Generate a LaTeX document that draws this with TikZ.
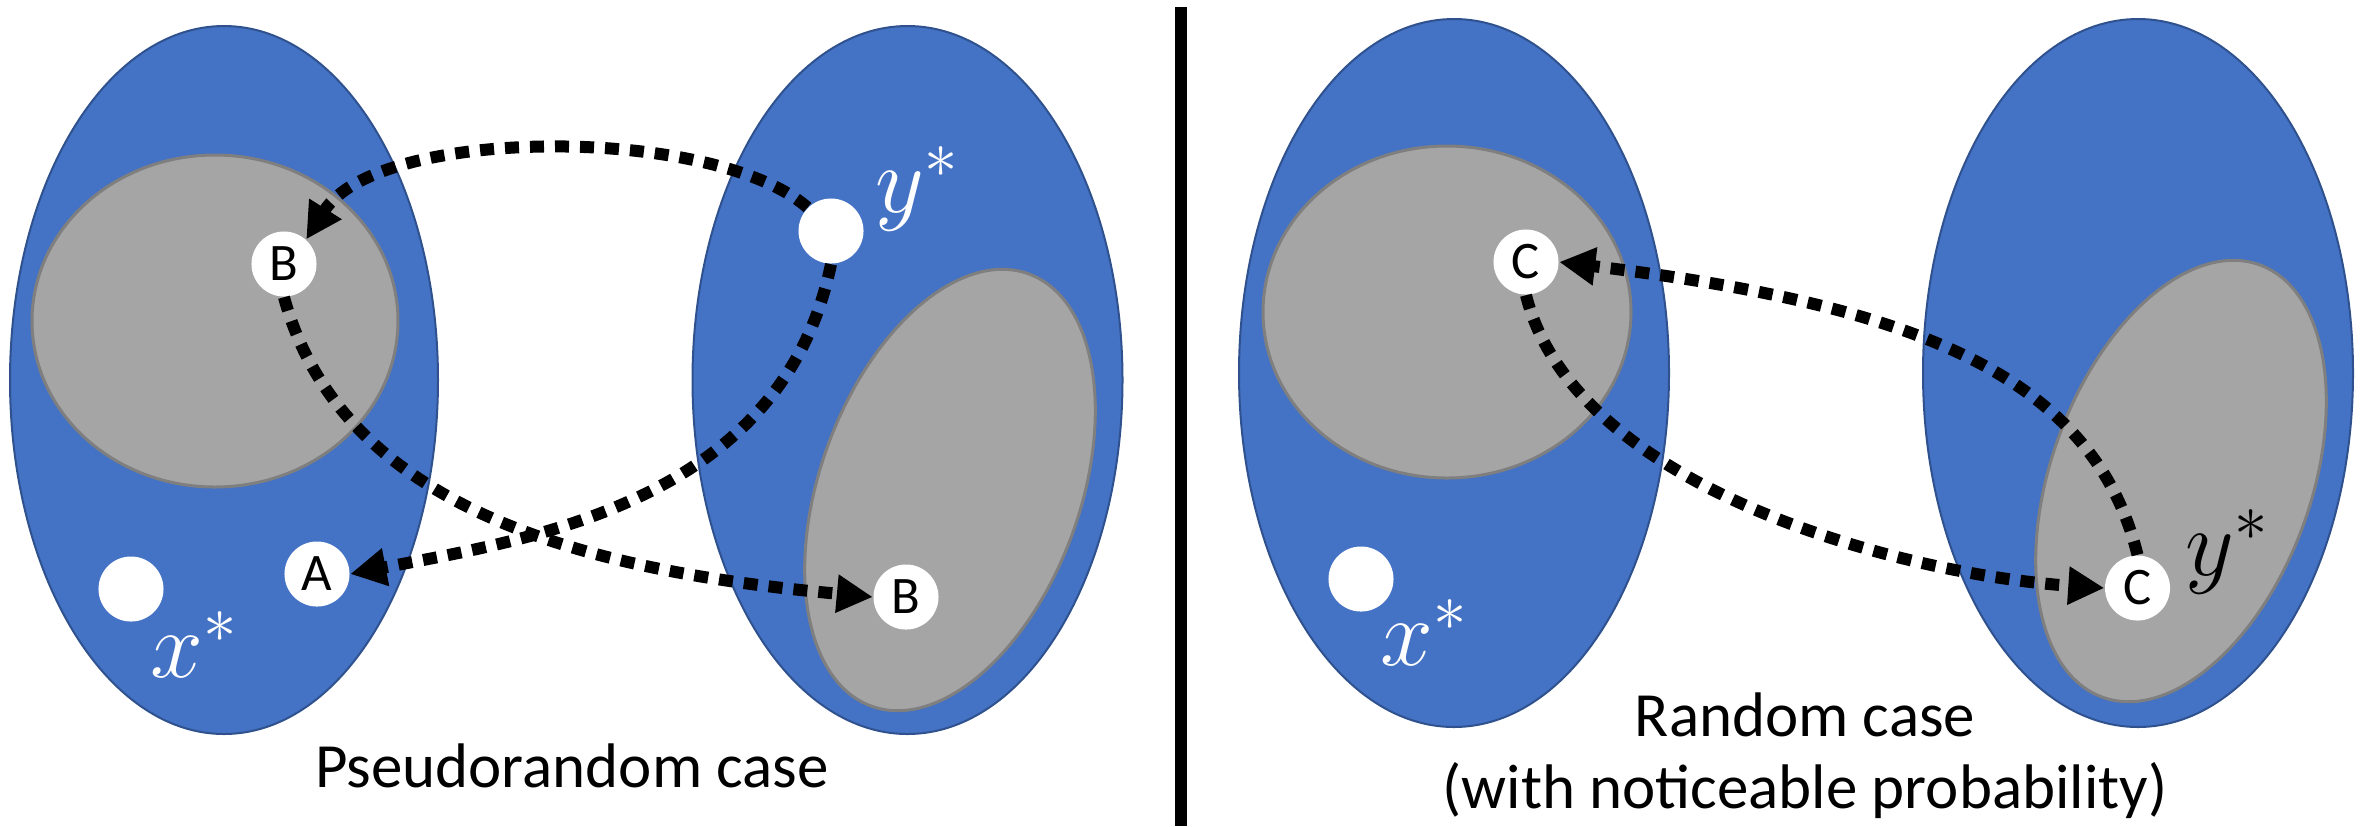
\RequirePackage{fix-cm}
\documentclass[tikz,border=0pt]{standalone}
\usepackage{fontspec}
\setmainfont{Carlito}
\usetikzlibrary{arrows.meta}
\definecolor{blueF}{HTML}{4472C4}
\definecolor{blueD}{HTML}{2F528F}
\definecolor{grayF}{HTML}{A5A5A5}
\definecolor{grayD}{HTML}{7F7F7F}
\begin{document}
\begin{tikzpicture}[x=0.01cm, y=-0.01cm,
  outer/.style={fill=blueF, draw=blueD, line width=0.02cm},
  inner/.style={fill=grayF, draw=grayD, line width=0.03cm},
  pt/.style={circle, fill=white, inner sep=0pt, minimum size=0.65cm, font=\fontsize{15}{18}\selectfont},
  dotarrow/.style={line width=0.12cm, dash pattern=on 0.14cm off 0.11cm, -{Triangle[length=0.36cm,width=0.36cm]}},
  mlabel/.style={anchor=base west, inner sep=0pt, font=\fontsize{27}{30}\selectfont},
  caption/.style={anchor=base, inner sep=0pt, font=\fontsize{17.9}{21}\selectfont}]

\useasboundingbox (0,0) rectangle (2363,826);

% ---------- left panel ----------
\draw[outer] (224,380) ellipse [x radius=214, y radius=354];
\draw[inner] (215,321) ellipse [x radius=183, y radius=166];
\draw[outer] (907.5,380) ellipse [x radius=215, y radius=354];
\draw[inner, rotate around={-20:(950,490)}] (950,490) ellipse [x radius=130, y radius=230];

\node[pt] (Bt) at (284,264) {B};
\node[pt] (ys) at (831,231) {};
\node[pt] (A) at (317,574) {A};
\node[pt] (xs) at (131,589) {};
\node[pt] (Bb) at (906,597) {B};
\node[mlabel, text=white] (xl) at (150,677) {$x^*$};
\node[mlabel, text=white] (yl) at (875,212) {$y^*$};

\draw[dotarrow] (ys.135) .. controls (713,125) and (378,126) .. (Bt.48);
\draw[dotarrow] (ys.south) .. controls (782,502) and (531,539) .. (A.east);
\draw[dotarrow] (Bt.south) .. controls (344,517) and (603,572) .. (Bb.west);

\node[caption] (cap1) at (572,787) {Pseudorandom case};

% ---------- divider ----------
\coordinate (dtop) at (1180.5,7);
\coordinate (dbot) at (1180.5,826);
\draw[line width=0.12cm] (dtop) -- (dbot);

% ---------- right panel ----------
\draw[outer] (1454,373) ellipse [x radius=215, y radius=354];
\draw[inner] (1447,312) ellipse [x radius=184, y radius=166];
\draw[outer] (2138,373) ellipse [x radius=215, y radius=354];
\draw[inner, rotate around={-20:(2181,481)}] (2181,481) ellipse [x radius=130, y radius=230];

\node[pt] (Ct) at (1526,262) {C};
\node[pt] (xs2) at (1361,579) {};
\node[pt] (Cb) at (2137.5,588) {C};
\node[mlabel, text=white] (xl2) at (1380,665) {$x^*$};
\node[mlabel] (yl2) at (2185,575) {$y^*$};

\draw[dotarrow] (Cb.north) .. controls (2091.5,370) and (1903,304) .. (Ct.east);
\draw[dotarrow] (Ct.south) .. controls (1575,491) and (1908,575) .. (Cb.west);

\node[caption] (cap2) at (1805,736) {Random case};
\node[caption] (cap3) at (1805,808) {(with noticeable probability)};
\end{tikzpicture}
\end{document}
